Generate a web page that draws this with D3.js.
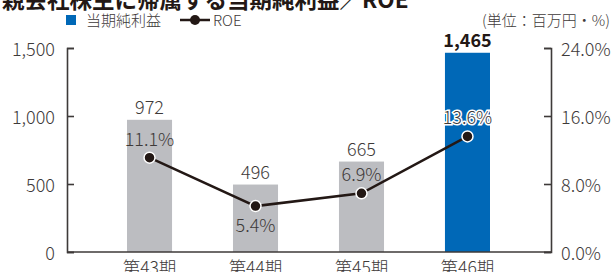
<!DOCTYPE html>
<html><head><meta charset="utf-8">
<script src="https://cdn.jsdelivr.net/npm/d3@7"></script>
<style>
html,body{margin:0;padding:0;background:#fff;}
svg{display:block;}
text{font-family:"Noto Sans CJK JP","Noto Sans",sans-serif;font-weight:300;}
</style></head>
<body>
<svg id="chart" width="614" height="272"></svg>
<script>
const categories = ["第43期","第44期","第45期","第46期"];
const netIncome = [972, 496, 665, 1465];
const roe = [11.1, 5.4, 6.9, 13.6];
const leftTicks = [0, 500, 1000, 1500];
const rightTicks = [0, 8, 16, 24];
const titleText = "親会社株主に帰属する当期純利益／ROE";
const legendLabels = ["当期純利益", "ROE"];
const unitText = "(単位：百万円・%)";

const W = 614, H = 272;
const plotLeft = 67, plotRight = 551, plotTop = 48, plotBottom = 252;
const textColor = "#3e3a39", dark = "#231815";
const grayBar = "#bcbdc1", blueBar = "#0068b7";

const svg = d3.select("#chart");

const x = d3.scaleBand().domain(categories).range([127, 490]).paddingInner(0.575).paddingOuter(0);
const yL = d3.scaleLinear().domain([0, 1500]).range([plotBottom, plotTop]);
const yR = d3.scaleLinear().domain([0, 24]).range([plotBottom, plotTop]);

// title (cut at top)
svg.append("text").attr("x", 2).attr("y", 8)
  .attr("font-size", 22.5).style("font-weight", "bold").attr("fill", dark)
  .text(titleText);

// legend
svg.append("rect").attr("x", 66).attr("y", 15).attr("width", 10).attr("height", 10).attr("fill", blueBar);
svg.append("text").attr("x", 86).attr("y", 25.5).attr("font-size", 15).attr("fill", textColor).text(legendLabels[0]);
svg.append("line").attr("x1", 180).attr("x2", 210).attr("y1", 20).attr("y2", 20).attr("stroke", dark).attr("stroke-width", 2.5);
svg.append("circle").attr("cx", 195).attr("cy", 20).attr("r", 5).attr("fill", dark);
svg.append("text").attr("x", 213).attr("y", 25.5).attr("font-size", 15).attr("fill", textColor).text(legendLabels[1]);
svg.append("text").attr("x", 610).attr("y", 25.5).attr("text-anchor", "end").attr("font-size", 15).attr("fill", textColor).text(unitText);

// bars
svg.append("g").selectAll("rect").data(categories).join("rect")
  .attr("x", d => x(d)).attr("width", x.bandwidth())
  .attr("y", (d, i) => yL(netIncome[i]))
  .attr("height", (d, i) => plotBottom - yL(netIncome[i]))
  .attr("fill", (d, i) => i === categories.length - 1 ? blueBar : grayBar);

// axes
const axisL = svg.append("g").attr("transform", `translate(${plotLeft},0)`)
  .call(d3.axisRight(yL).tickValues(leftTicks).tickSize(7).tickFormat(""));
const axisR = svg.append("g").attr("transform", `translate(${plotRight},0)`)
  .call(d3.axisLeft(yR).tickValues(rightTicks).tickSize(7).tickFormat(""));
[axisL, axisR].forEach(g => {
  g.selectAll("path.domain").attr("stroke", textColor).attr("stroke-width", 1.6);
  g.selectAll(".tick line").attr("stroke", textColor).attr("stroke-width", 1.6);
});
svg.append("line").attr("x1", plotLeft).attr("x2", plotRight).attr("y1", plotBottom).attr("y2", plotBottom)
  .attr("stroke", textColor).attr("stroke-width", 1.6);

// tick labels
svg.append("g").selectAll("text").data(leftTicks).join("text")
  .attr("x", plotLeft - 12).attr("y", d => yL(d)).attr("dy", "0.45em")
  .attr("text-anchor", "end").attr("font-size", 18).attr("fill", textColor)
  .text(d => d3.format(",")(d));
svg.append("g").selectAll("text").data(rightTicks).join("text")
  .attr("x", plotRight + 10).attr("y", d => yR(d)).attr("dy", "0.45em")
  .attr("text-anchor", "start").attr("font-size", 18).attr("fill", textColor)
  .text(d => d.toFixed(1) + "%");
svg.append("g").selectAll("text").data(categories).join("text")
  .attr("x", d => x(d) + x.bandwidth() / 2).attr("y", 274)
  .attr("text-anchor", "middle").attr("font-size", 17.5).attr("fill", textColor)
  .text(d => d);

// bar value labels
svg.append("g").selectAll("text").data(categories).join("text")
  .attr("x", d => x(d) + x.bandwidth() / 2)
  .attr("y", (d, i) => yL(netIncome[i]) - 6)
  .attr("text-anchor", "middle").attr("font-size", 18)
  .style("font-weight", (d, i) => i === categories.length - 1 ? "bold" : "300")
  .attr("fill", (d, i) => i === categories.length - 1 ? dark : textColor)
  .text((d, i) => d3.format(",")(netIncome[i]));

// ROE line
const cx = d => x(d) + x.bandwidth() / 2;
const line = d3.line().x((d, i) => cx(categories[i])).y(d => yR(d));
svg.append("path").datum(roe).attr("d", line).attr("fill", "none")
  .attr("stroke", dark).attr("stroke-width", 2.5);
svg.append("g").selectAll("circle").data(roe).join("circle")
  .attr("cx", (d, i) => cx(categories[i])).attr("cy", d => yR(d)).attr("r", 5.5)
  .attr("fill", dark).attr("stroke", "#fff").attr("stroke-width", 1.5);

// ROE labels
const below = [false, true, false, false];
svg.append("g").selectAll("text").data(roe).join("text")
  .attr("x", (d, i) => cx(categories[i]))
  .attr("y", (d, i) => below[i] ? yR(d) + 26 : yR(d) - 12)
  .attr("text-anchor", "middle").attr("font-size", 18)
  .attr("fill", textColor)
  .attr("stroke", (d, i) => i === roe.length - 1 ? "#fff" : "none")
  .attr("stroke-width", 3).attr("paint-order", "stroke")
  .text(d => d.toFixed(1) + "%");
</script>
</body></html>
